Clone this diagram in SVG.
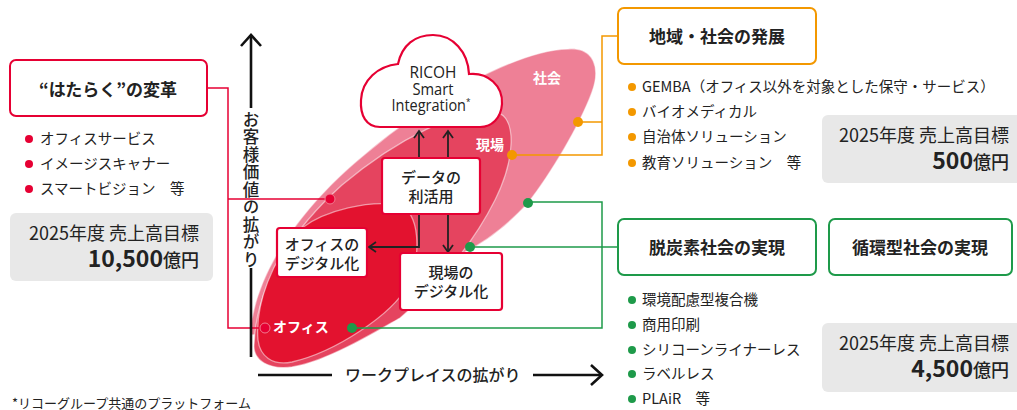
<svg xmlns="http://www.w3.org/2000/svg" width="1017" height="410" viewBox="0 0 1017 410">
<defs>
<style>
text{font-family:"Noto Sans CJK JP","Noto Sans",sans-serif;fill:#222}
.t{font-size:14.5px}
.h{font-size:17px;font-weight:700;text-anchor:middle}
.bx{font-size:15px;font-weight:500;text-anchor:middle}
.w{fill:#fff;font-weight:700;font-size:14px}
.tg{font-size:18px;text-anchor:end}
.big{font-size:23px;font-weight:700}
.yen{font-size:18px;font-weight:500}
.cl{font-family:"Open Sans","Noto Sans",sans-serif;font-size:16px;font-weight:500;text-anchor:middle}
.gbox{fill:#e8e8e8}
.ax{stroke:#111;stroke-width:2.6;fill:none}
.ar{stroke:#222;stroke-width:1.8;fill:none}
.lr{stroke:#e60033;stroke-width:1.5;fill:none}
.lo{stroke:#f39800;stroke-width:1.5;fill:none}
.lg{stroke:#1e9a4a;stroke-width:1.5;fill:none}
.nr{fill:#fff;stroke:#e60033;stroke-width:2.2}
.rim{stroke:#fff;stroke-opacity:0.5;stroke-width:1.3}
</style>
<marker id="sa" viewBox="0 0 12 12" refX="10" refY="6" markerWidth="12" markerHeight="12" markerUnits="userSpaceOnUse" orient="auto">
<path d="M3,1 L10,6 L3,11" fill="none" stroke="#222" stroke-width="1.8"/>
</marker>
<marker id="aa" viewBox="0 0 24 24" refX="21" refY="12" markerWidth="24" markerHeight="24" markerUnits="userSpaceOnUse" orient="auto">
<path d="M10,2 L21,12 L10,22" fill="none" stroke="#111" stroke-width="2.6"/>
</marker>
</defs>
<rect width="1017" height="410" fill="#fff"/>

<g id="ellipses">
<path class="rim" fill="#ee8096" d="M250,335 C254,272 303,205 364,155 C425,103 515,50 568,49 C594,47 601,68 592,92 C580,125 550,175 528,203 C505,228 485,242 465,252 C430,280 330,330 250,335 Z"/>
<path class="rim" fill="#e5445f" d="M254,345 C256,285 292,230 342,185 C398,138 460,108 495,112 C518,116 515,160 495,200 C475,240 440,285 400,318 C370,335 325,362 292,367 C268,370 253,360 254,345 Z"/>
<path class="rim" fill="#e3122f" d="M258,340 C255,305 272,258 302,228 C325,210 370,200 398,205 C420,210 422,255 408,285 C392,315 335,352 292,362 C272,366 260,356 258,340 Z"/>
<text class="w" x="547" y="83" text-anchor="middle">社会</text>
<text class="w" x="490" y="150" text-anchor="middle">現場</text>
<text class="w" x="273" y="332">オフィス</text>
</g>

<g id="connectors">
<polyline class="lr" points="207,88 228,88 228,328 265,328"/>
<line class="lr" x1="228" y1="199" x2="330" y2="199"/>
<polyline class="lo" points="618,36 602,36 602,155 513,155"/>
<line class="lo" x1="578" y1="122" x2="602" y2="122"/>
<polyline class="lg" points="528,202 602,202 602,328 352,328"/>
<line class="lg" x1="470" y1="247" x2="618" y2="247"/>
<line class="ar" x1="419" y1="158" x2="419" y2="131" marker-end="url(#sa)"/>
<line class="ar" x1="448" y1="158" x2="448" y2="131" marker-end="url(#sa)"/>
<polyline class="ar" points="419,214 419,247 369,247" marker-end="url(#sa)"/>
<line class="ar" x1="448" y1="214" x2="448" y2="252" marker-end="url(#sa)"/>
<circle cx="330" cy="199" r="5" fill="#e60033" stroke="#f07c90" stroke-width="1"/>
<circle cx="265" cy="328" r="5" fill="#e60033" stroke="#f07c90" stroke-width="1"/>
<circle cx="578" cy="122" r="5" fill="#f39800"/>
<circle cx="512" cy="155" r="5" fill="#f39800"/>
<circle cx="528" cy="203" r="5" fill="#1e9a4a"/>
<circle cx="470" cy="247" r="5" fill="#1e9a4a"/>
<circle cx="352" cy="328" r="5" fill="#1e9a4a"/>
</g>

<g id="axes">
<line class="ax" x1="251" y1="108" x2="251" y2="35" marker-end="url(#aa)"/>
<line class="ax" x1="251" y1="268" x2="251" y2="357"/>
<line class="ax" x1="258" y1="375" x2="332" y2="375"/>
<line class="ax" x1="533" y1="375" x2="602" y2="375" marker-end="url(#aa)"/>
<text x="251" y="111" style="writing-mode:vertical-rl;font-size:16.5px;font-weight:500;letter-spacing:1px">お客様価値の拡がり</text>
<text x="345" y="381" style="font-size:16px;font-weight:500">ワークプレイスの拡がり</text>
</g>

<g id="cloud">
<path class="nr" d="M380,127 C366,127 360,115 361,100 C362,80 378,66 398,64 C402,45 415,35 433,35 C453,35 468,52 469,74 C488,72 503,86 502,104 C501,118 492,127 480,127 Z"/>
<text class="cl" x="433" y="78" textLength="47" lengthAdjust="spacingAndGlyphs">RICOH</text>
<text class="cl" x="433" y="95" textLength="41" lengthAdjust="spacingAndGlyphs">Smart</text>
<text class="cl" x="431" y="111" textLength="79" lengthAdjust="spacingAndGlyphs">Integration<tspan style="font-size:9px" dy="-6">*</tspan></text>
</g>

<g id="data">
<rect class="nr" x="382" y="158" width="98" height="56" rx="3"/>
<text class="bx" x="431" y="183">データの</text>
<text class="bx" x="431" y="202">利活用</text>
</g>
<g id="office-dx">
<rect class="nr" x="277" y="228" width="90" height="49" rx="3"/>
<text class="bx" x="322" y="250">オフィスの</text>
<text class="bx" x="322" y="269">デジタル化</text>
</g>
<g id="genba-dx">
<rect class="nr" x="400" y="253" width="102" height="57" rx="3"/>
<text class="bx" x="451" y="278">現場の</text>
<text class="bx" x="451" y="297">デジタル化</text>
</g>

<g id="hataraku">
<rect x="10" y="60" width="197" height="56" rx="6" fill="#fff" stroke="#e60033" stroke-width="2"/>
<text class="h" x="108" y="96">“はたらく”の変革</text>
<circle cx="29" cy="139" r="4" fill="#e60033"/>
<circle cx="29" cy="164" r="4" fill="#e60033"/>
<circle cx="29" cy="189" r="4" fill="#e60033"/>
<text class="t" x="40" y="144">オフィスサービス</text>
<text class="t" x="40" y="169">イメージスキャナー</text>
<text class="t" x="40" y="194">スマートビジョン　等</text>
<rect class="gbox" x="10" y="213" width="203" height="68" rx="6"/>
<text class="tg" x="199" y="240">2025年度 売上高目標</text>
<text x="199" y="267" text-anchor="end"><tspan class="big">10,500</tspan><tspan class="yen">億円</tspan></text>
</g>

<g id="chiiki">
<rect x="618" y="8" width="198" height="56" rx="6" fill="#fff" stroke="#f39800" stroke-width="2"/>
<text class="h" x="717" y="43">地域・社会の発展</text>
<circle cx="632" cy="87" r="4" fill="#f39800"/>
<circle cx="632" cy="112" r="4" fill="#f39800"/>
<circle cx="632" cy="137" r="4" fill="#f39800"/>
<circle cx="632" cy="163" r="4" fill="#f39800"/>
<text class="t" x="642" y="92">GEMBA（オフィス以外を対象とした保守・サービス）</text>
<text class="t" x="642" y="117">バイオメディカル</text>
<text class="t" x="642" y="142">自治体ソリューション</text>
<text class="t" x="642" y="168">教育ソリューション　等</text>
<rect class="gbox" x="822" y="115" width="205" height="68" rx="6"/>
<text class="tg" x="1009" y="142">2025年度 売上高目標</text>
<text x="1009" y="169" text-anchor="end"><tspan class="big">500</tspan><tspan class="yen">億円</tspan></text>
</g>

<g id="datsutanso">
<rect x="618" y="219" width="198" height="56" rx="6" fill="#fff" stroke="#1e9a4a" stroke-width="2"/>
<text class="h" x="717" y="254">脱炭素社会の実現</text>
<circle cx="632" cy="300" r="4" fill="#1e9a4a"/>
<circle cx="632" cy="325" r="4" fill="#1e9a4a"/>
<circle cx="632" cy="350" r="4" fill="#1e9a4a"/>
<circle cx="632" cy="374" r="4" fill="#1e9a4a"/>
<circle cx="632" cy="399" r="4" fill="#1e9a4a"/>
<text class="t" x="642" y="305">環境配慮型複合機</text>
<text class="t" x="642" y="330">商用印刷</text>
<text class="t" x="642" y="355">シリコーンライナーレス</text>
<text class="t" x="642" y="379">ラベルレス</text>
<text class="t" x="642" y="404">PLAiR　等</text>
</g>
<g id="junkan">
<rect x="829" y="219" width="183" height="56" rx="6" fill="#fff" stroke="#1e9a4a" stroke-width="2"/>
<text class="h" x="920" y="254">循環型社会の実現</text>
<rect class="gbox" x="822" y="323" width="205" height="69" rx="6"/>
<text class="tg" x="1009" y="350">2025年度 売上高目標</text>
<text x="1009" y="377" text-anchor="end"><tspan class="big">4,500</tspan><tspan class="yen">億円</tspan></text>
</g>

<text x="12" y="408" style="font-size:13px">*リコーグループ共通のプラットフォーム</text>
</svg>
